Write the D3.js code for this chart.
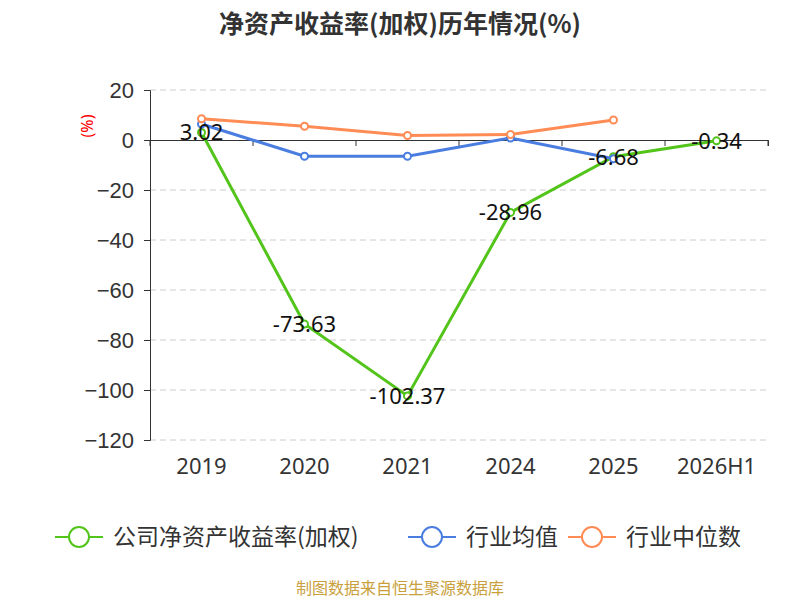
<!DOCTYPE html>
<html><head><meta charset="utf-8">
<script src="https://cdn.jsdelivr.net/npm/d3@7"></script>
<style>body{margin:0;background:#fff;font-family:"Noto Sans","Noto Sans CJK SC",sans-serif}</style>
</head><body><div id="chart"></div>
<script>
const categories = ["2019", "2020", "2021", "2024", "2025", "2026H1"];
const company = [3.02, -73.63, -102.37, -28.96, -6.68, -0.34];
const industryAvg = [6.4, -6.5, -6.5, 0.8, -7.5, null];
const industryMedian = [8.5, 5.5, 1.8, 2.2, 8.0, null];
const yTicks = [20, 0, -20, -40, -60, -80, -100, -120];
const cjk = '"Noto Sans CJK SC","Noto Sans",sans-serif';

const svg = d3.select("#chart").append("svg").attr("width", 800).attr("height", 600);
const x = d3.scaleBand().domain(categories).range([150, 768]);
const y = d3.scaleLinear().domain([-120, 20]).range([440, 90]);

svg.append("text").attr("x", 400).attr("y", 33).attr("text-anchor", "middle")
  .attr("font-size", 25).attr("font-weight", "bold").attr("fill", "#333").attr("font-family", cjk)
  .text("净资产收益率(加权)历年情况(%)");

svg.append("g").selectAll("line").data(yTicks.filter(d => d !== 0)).enter().append("line")
  .attr("x1", 150).attr("x2", 768).attr("y1", d => y(d)).attr("y2", d => y(d))
  .attr("stroke", "#ccc").attr("stroke-dasharray", "6,4");

const ya = svg.append("g").attr("transform", "translate(150,0)")
  .call(d3.axisLeft(y).tickValues(yTicks).tickSize(6).tickPadding(10));
ya.selectAll("text").attr("font-size", 22).attr("fill", "#333");
ya.selectAll("line,path").attr("stroke", "#333");

const xa = svg.append("g").attr("transform", `translate(0,${y(0)})`)
  .call(d3.axisBottom(x).tickSizeOuter(0).tickSize(6).tickFormat(""));
xa.selectAll("line,path").attr("stroke", "#333");
xa.selectAll(".tick").attr("transform", d => `translate(${x(d)},0)`);
xa.append("line").attr("x1", 768).attr("x2", 768).attr("y1", 0).attr("y2", 6).attr("stroke", "#333");
svg.append("g").selectAll("text").data(categories).enter().append("text")
  .attr("x", d => x(d) + x.bandwidth() / 2).attr("y", 474).attr("text-anchor", "middle")
  .attr("font-size", 22).attr("fill", "#333").text(d => d);

svg.append("text").attr("transform", "translate(93,126) rotate(-90)").attr("text-anchor", "middle")
  .attr("font-size", 16).attr("fill", "red").text("(%)");

const cx = (d, i) => x(categories[i]) + x.bandwidth() / 2;
function series(data, color) {
  const line = d3.line().defined(d => d !== null).x(cx).y(d => y(d));
  svg.append("path").datum(data).attr("d", line).attr("fill", "none")
    .attr("stroke", color).attr("stroke-width", 3);
  svg.append("g").selectAll("circle").data(data.map((d, i) => [d, i]).filter(p => p[0] !== null))
    .enter().append("circle").attr("cx", p => cx(p[0], p[1])).attr("cy", p => y(p[0]))
    .attr("r", 3.5).attr("fill", "#fff").attr("stroke", color).attr("stroke-width", 2);
}
series(company, "#52c41a");
series(industryAvg, "#4a7de0");
series(industryMedian, "#ff8c55");

svg.append("g").selectAll("text").data(company).enter().append("text")
  .attr("x", cx).attr("y", d => y(d) + 8).attr("text-anchor", "middle")
  .attr("font-size", 22).attr("fill", "#111").text(d => d.toFixed(2));

const legend = [["公司净资产收益率(加权)", "#52c41a", 55], ["行业均值", "#4a7de0", 408], ["行业中位数", "#ff8c55", 568]];
legend.forEach(([t, c, lx]) => {
  const g = svg.append("g").attr("transform", `translate(${lx},537)`);
  g.append("line").attr("x1", 0).attr("x2", 48).attr("stroke", c).attr("stroke-width", 2);
  g.append("circle").attr("cx", 24).attr("r", 10).attr("fill", "#fff").attr("stroke", c).attr("stroke-width", 2);
  g.append("text").attr("x", 58).attr("y", 8).attr("font-size", 23).attr("fill", "#333")
    .attr("font-family", cjk).text(t);
});

svg.append("text").attr("x", 400).attr("y", 594).attr("text-anchor", "middle").attr("font-size", 16)
  .attr("fill", "#c8a03c").attr("font-family", cjk).text("制图数据来自恒生聚源数据库");
</script></body></html>
